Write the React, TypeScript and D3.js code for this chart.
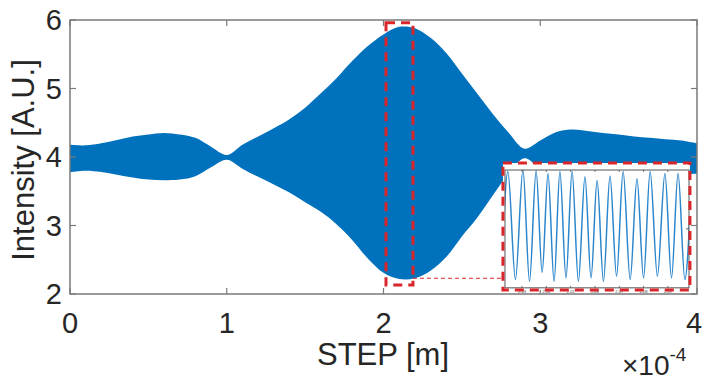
import React from "react";
import * as d3 from "d3";

// Envelope of the recorded intensity trace (x in units of 1e-4 m)
const envX = [0, 0.1, 0.2, 0.3, 0.4, 0.5, 0.6, 0.7, 0.8, 0.9, 1.0, 1.1, 1.2, 1.3, 1.4, 1.5, 1.6, 1.7, 1.8, 1.9, 2.0, 2.1, 2.2, 2.3, 2.4, 2.5, 2.6, 2.7, 2.8, 2.9, 3.0, 3.1, 3.2, 3.3, 3.4, 3.5, 3.6, 3.7, 3.8, 3.9, 4.0];
const envUpper = [4.18, 4.17, 4.2, 4.25, 4.3, 4.33, 4.35, 4.33, 4.28, 4.15, 4.03, 4.18, 4.3, 4.42, 4.55, 4.72, 4.93, 5.15, 5.4, 5.62, 5.79, 5.9, 5.88, 5.74, 5.52, 5.22, 4.92, 4.62, 4.35, 4.12, 4.24, 4.36, 4.4, 4.38, 4.35, 4.33, 4.3, 4.28, 4.26, 4.24, 4.2];
const envLower = [3.78, 3.8, 3.78, 3.74, 3.7, 3.67, 3.66, 3.67, 3.72, 3.85, 3.96, 3.83, 3.71, 3.6, 3.48, 3.34, 3.2, 3.02, 2.79, 2.52, 2.31, 2.22, 2.23, 2.34, 2.54, 2.84, 3.12, 3.45, 3.76, 3.98, 3.82, 3.68, 3.62, 3.62, 3.64, 3.66, 3.68, 3.7, 3.72, 3.74, 3.76];

// Zoomed segment: alternating troughs and peaks of the fringe signal
const zoomPosX = [2.0215, 2.0242, 2.0273, 2.0304, 2.0331, 2.0358, 2.0383, 2.0407, 2.0432, 2.0456, 2.0481, 2.0506, 2.0532, 2.0559, 2.0584, 2.0609, 2.0635, 2.0662, 2.0689, 2.0716, 2.0745, 2.0773, 2.08, 2.0827, 2.0857, 2.0888, 2.0915, 2.0942, 2.097, 2.0998];
const zoomVal = [2.4, 5.9, 2.42, 5.95, 2.36, 5.92, 2.65, 5.84, 2.36, 5.9, 2.47, 5.9, 2.36, 5.73, 2.47, 5.61, 2.36, 5.76, 2.53, 5.9, 2.42, 5.67, 2.47, 5.9, 2.53, 5.84, 2.47, 5.84, 2.42, 5.8];

const xTicks = [0, 1, 2, 3, 4];
const yTicks = [2, 3, 4, 5, 6];
const zoomTicks = [2.03, 2.04, 2.05, 2.06, 2.07, 2.08, 2.09];

// Annotation regions (data coordinates of the main axes)
const zoomWindowX = [2.016, 2.188];
const zoomWindowY = [2.13, 5.96];
const insetFrameX = [2.762, 3.955];
const insetFrameY = [2.06, 3.912];
const insetAxesX = [2.775, 3.949];
const insetAxesY = [2.09, 3.81];
const insetDomainX = [2.023, 2.0987];
const insetDomainY = [2.15, 5.95];
const linkY = 2.23;

const W = 703;
const H = 382;
const BLUE = "#0072BD";
const RED = "#D9262B";
const AXIS = "#7a7a7a";
const TEXT = "#262626";
const FONT = "'Liberation Sans', Arial, Helvetica, sans-serif";

export default function App() {
  const x = d3.scaleLinear().domain([0, 4]).range([70, 697]);
  const y = d3.scaleLinear().domain([2, 6]).range([294, 20]);

  const env = envX.map((v, i) => ({ x: v, hi: envUpper[i], lo: envLower[i] }));
  const area = d3
    .area<{ x: number; hi: number; lo: number }>()
    .x((d) => x(d.x))
    .y0((d) => y(d.lo))
    .y1((d) => y(d.hi))
    .curve(d3.curveCatmullRom.alpha(0.5))(env) as string;

  const [ix0, ix1] = insetAxesX.map(x);
  const [iy0, iy1] = insetAxesY.map(y); // iy0 bottom, iy1 top
  const ix = d3.scaleLinear().domain(insetDomainX).range([ix0, ix1]);
  const iy = d3.scaleLinear().domain(insetDomainY).range([iy0, iy1]);
  const zoomLine = d3
    .line<number>()
    .x((d, i) => ix(zoomPosX[i]))
    .y((d) => iy(d))
    .curve(d3.curveMonotoneX)(zoomVal) as string;

  const tickLen = 6;
  const x0 = x(0), x1 = x(4), y0 = y(2), y1 = y(6);
  const iyMid = iy((insetDomainY[0] + insetDomainY[1]) / 2);

  return (
    <svg
      width={W}
      height={H}
      viewBox={`0 0 ${W} ${H}`}
      style={{ position: "absolute", left: 0, top: 0, background: "#fff" }}
      fontFamily={FONT}
    >
      <defs>
        <clipPath id="plotClip">
          <rect x={x0} y={y1} width={x1 - x0} height={y0 - y1} />
        </clipPath>
        <clipPath id="insetClip">
          <rect x={ix0} y={iy1} width={ix1 - ix0} height={iy0 - iy1} />
        </clipPath>
      </defs>

      {/* signal band */}
      <path d={area} fill={BLUE} clipPath="url(#plotClip)" />

      {/* main axes box and ticks */}
      <rect x={x0} y={y1} width={x1 - x0} height={y0 - y1} fill="none" stroke={AXIS} strokeWidth={1.5} />
      {xTicks.map((t) => (
        <g key={`xt${t}`}>
          <line x1={x(t)} x2={x(t)} y1={y0} y2={y0 - tickLen} stroke={AXIS} strokeWidth={1.2} />
          <line x1={x(t)} x2={x(t)} y1={y1} y2={y1 + tickLen} stroke={AXIS} strokeWidth={1.2} />
          <text x={Math.min(x(t), 694)} y={333} fontSize={29} fill={TEXT} textAnchor="middle">
            {t}
          </text>
        </g>
      ))}
      {yTicks.map((t) => (
        <g key={`yt${t}`}>
          <line x1={x0} x2={x0 + tickLen} y1={y(t)} y2={y(t)} stroke={AXIS} strokeWidth={1.2} />
          <line x1={x1} x2={x1 - tickLen} y1={y(t)} y2={y(t)} stroke={AXIS} strokeWidth={1.2} />
          <text x={62} y={y(t)} dy="0.36em" fontSize={29} fill={TEXT} textAnchor="end">
            {t}
          </text>
        </g>
      ))}

      {/* axis titles */}
      <text x={383} y={365} fontSize={31} fill={TEXT} textAnchor="middle">
        STEP [m]
      </text>
      <text
        transform={`translate(34,160) rotate(-90)`}
        fontSize={31}
        fill={TEXT}
        textAnchor="middle"
      >
        Intensity [A.U.]
      </text>
      <text x={622} y={375} fontSize={28} fill={TEXT}>
        ×10
        <tspan fontSize={19} dy={-14}>
          -4
        </tspan>
      </text>

      {/* zoom window on the main trace */}
      <rect
        x={x(zoomWindowX[0])}
        y={y(zoomWindowY[1])}
        width={x(zoomWindowX[1]) - x(zoomWindowX[0])}
        height={y(zoomWindowY[0]) - y(zoomWindowY[1])}
        fill="none"
        stroke={RED}
        strokeWidth={3}
        strokeDasharray="9 6"
      />
      <line
        x1={x(zoomWindowX[1])}
        x2={x(insetFrameX[0])}
        y1={y(linkY)}
        y2={y(linkY)}
        stroke={RED}
        strokeWidth={1.2}
        strokeDasharray="4 3"
      />

      {/* inset frame */}
      <rect
        x={x(insetFrameX[0])}
        y={y(insetFrameY[1])}
        width={x(insetFrameX[1]) - x(insetFrameX[0])}
        height={y(insetFrameY[0]) - y(insetFrameY[1])}
        fill="#fff"
      />
      <path d={zoomLine} fill="none" stroke="#2c86cc" strokeWidth={1.5} clipPath="url(#insetClip)" />
      <rect x={ix0} y={iy1} width={ix1 - ix0} height={iy0 - iy1} fill="none" stroke="#555" strokeWidth={1} />
      <line x1={ix1} x2={ix1 - 3} y1={iyMid} y2={iyMid} stroke="#555" strokeWidth={1} />
      {zoomTicks.map((t) => (
        <g key={`zt${t}`}>
          <line x1={ix(t)} x2={ix(t)} y1={iy0} y2={iy0 - 2} stroke="#555" strokeWidth={0.8} />
          <line x1={ix(t)} x2={ix(t)} y1={iy1} y2={iy1 + 2} stroke="#555" strokeWidth={0.8} />
          <text x={ix(t)} y={iy0 + 5} fontSize={4} fill="#444" textAnchor="middle">
            {t.toFixed(2)}
          </text>
        </g>
      ))}
      <rect
        x={x(insetFrameX[0])}
        y={y(insetFrameY[1])}
        width={x(insetFrameX[1]) - x(insetFrameX[0])}
        height={y(insetFrameY[0]) - y(insetFrameY[1])}
        fill="none"
        stroke={RED}
        strokeWidth={3}
        strokeDasharray="9 6"
      />
    </svg>
  );
}
